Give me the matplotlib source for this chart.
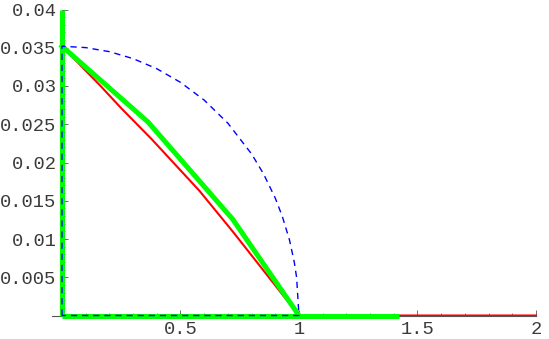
import matplotlib
matplotlib.use("Agg")
import matplotlib.pyplot as plt
from matplotlib.ticker import MultipleLocator, FixedLocator

# ---- data ----
red_x = [0.0, 0.16, 0.25, 0.377, 0.58, 0.72, 1.0, 2.0]
red_y = [0.0352, 0.0301, 0.0271, 0.0231, 0.0163, 0.0110, 0.0, 0.0]

green_curve_x = [0.0, 0.363, 0.72, 1.0]
green_curve_y = [0.0352, 0.0253, 0.0126, 0.0]
green_vert_x = [0.0, 0.0]
green_vert_y = [0.0, 0.04]
green_base_x = [0.0, 1.42]
green_base_y = [0.0, 0.0]

blue_arc_x = [0.0, 0.1, 0.2, 0.3, 0.4, 0.5, 0.6, 0.7, 0.8, 0.85, 0.9,
              0.93, 0.96, 0.98, 0.99, 1.0]
blue_arc_y = [0.0352, 0.03502, 0.03449, 0.03358, 0.03226, 0.03048, 0.02816,
              0.02514, 0.02112, 0.01854, 0.01534, 0.01293, 0.00986, 0.00700,
              0.00497, 0.0]

x_ticks = [0.5, 1, 1.5, 2]
x_labels = ["0.5", "1", "1.5", "2"]
y_ticks = [0.005, 0.01, 0.015, 0.02, 0.025, 0.03, 0.035, 0.04]
y_labels = ["0.005", "0.01", "0.015", "0.02", "0.025", "0.03", "0.035", "0.04"]

# ---- figure ----
W, H = 549, 339
fig = plt.figure(figsize=(W / 100, H / 100), dpi=100)
left_px, right_px = 52, 536
bottom_px, top_px = 315.5, 9.5
ax = fig.add_axes([left_px / W, 1 - bottom_px / H,
                   (right_px - left_px) / W, (bottom_px - top_px) / H])
ax.set_xlim(-0.042, 2.0)
ax.set_ylim(0, 0.04)

for s in ("top", "right"):
    ax.spines[s].set_visible(False)
ax.spines["left"].set_position(("data", 0))
ax.spines["bottom"].set_position(("data", 0))
for s in ("left", "bottom"):
    ax.spines[s].set_color("#555555")
    ax.spines[s].set_linewidth(0.8)

# lines
ax.plot(red_x, red_y, color="#ff0000", lw=1.5, clip_on=False, zorder=2)
ax.plot(green_vert_x, green_vert_y, color="#00ff00", lw=3.6, clip_on=False,
        zorder=3, solid_capstyle="butt")
ax.plot(green_base_x, green_base_y, color="#00ff00", lw=3.6, clip_on=False,
        zorder=3, solid_capstyle="butt")
ax.plot(green_curve_x, green_curve_y, color="#00ff00", lw=3.6, clip_on=False,
        zorder=3, solid_joinstyle="miter")
bx = [0.0] + blue_arc_x + [0.0]
by = [0.0] + blue_arc_y + [0.0]
ax.plot(bx, by, color="#0000ff", lw=1.0, dashes=(4.5, 3.5), clip_on=False,
        zorder=4)

# ticks
font = {"family": ["Liberation Mono", "DejaVu Sans Mono"], "size": 13.5}
ax.xaxis.set_major_locator(FixedLocator(x_ticks))
ax.set_xticklabels(x_labels, fontdict=font, color="#3a3a3a")
ax.xaxis.set_minor_locator(MultipleLocator(0.1))
ax.yaxis.set_major_locator(FixedLocator(y_ticks))
ax.set_yticklabels(y_labels, fontdict=font, color="#3a3a3a")
ax.yaxis.set_minor_locator(MultipleLocator(0.001))
ax.tick_params(axis="both", which="major", direction="in", length=4,
               width=0.6, color="#555555")
ax.tick_params(axis="both", which="minor", direction="in", length=2.2,
               width=0.5, color="#555555")
ax.tick_params(axis="x", which="major", pad=4)
ax.tick_params(axis="y", which="major", pad=4)

fig.savefig("out.png", dpi=100)
